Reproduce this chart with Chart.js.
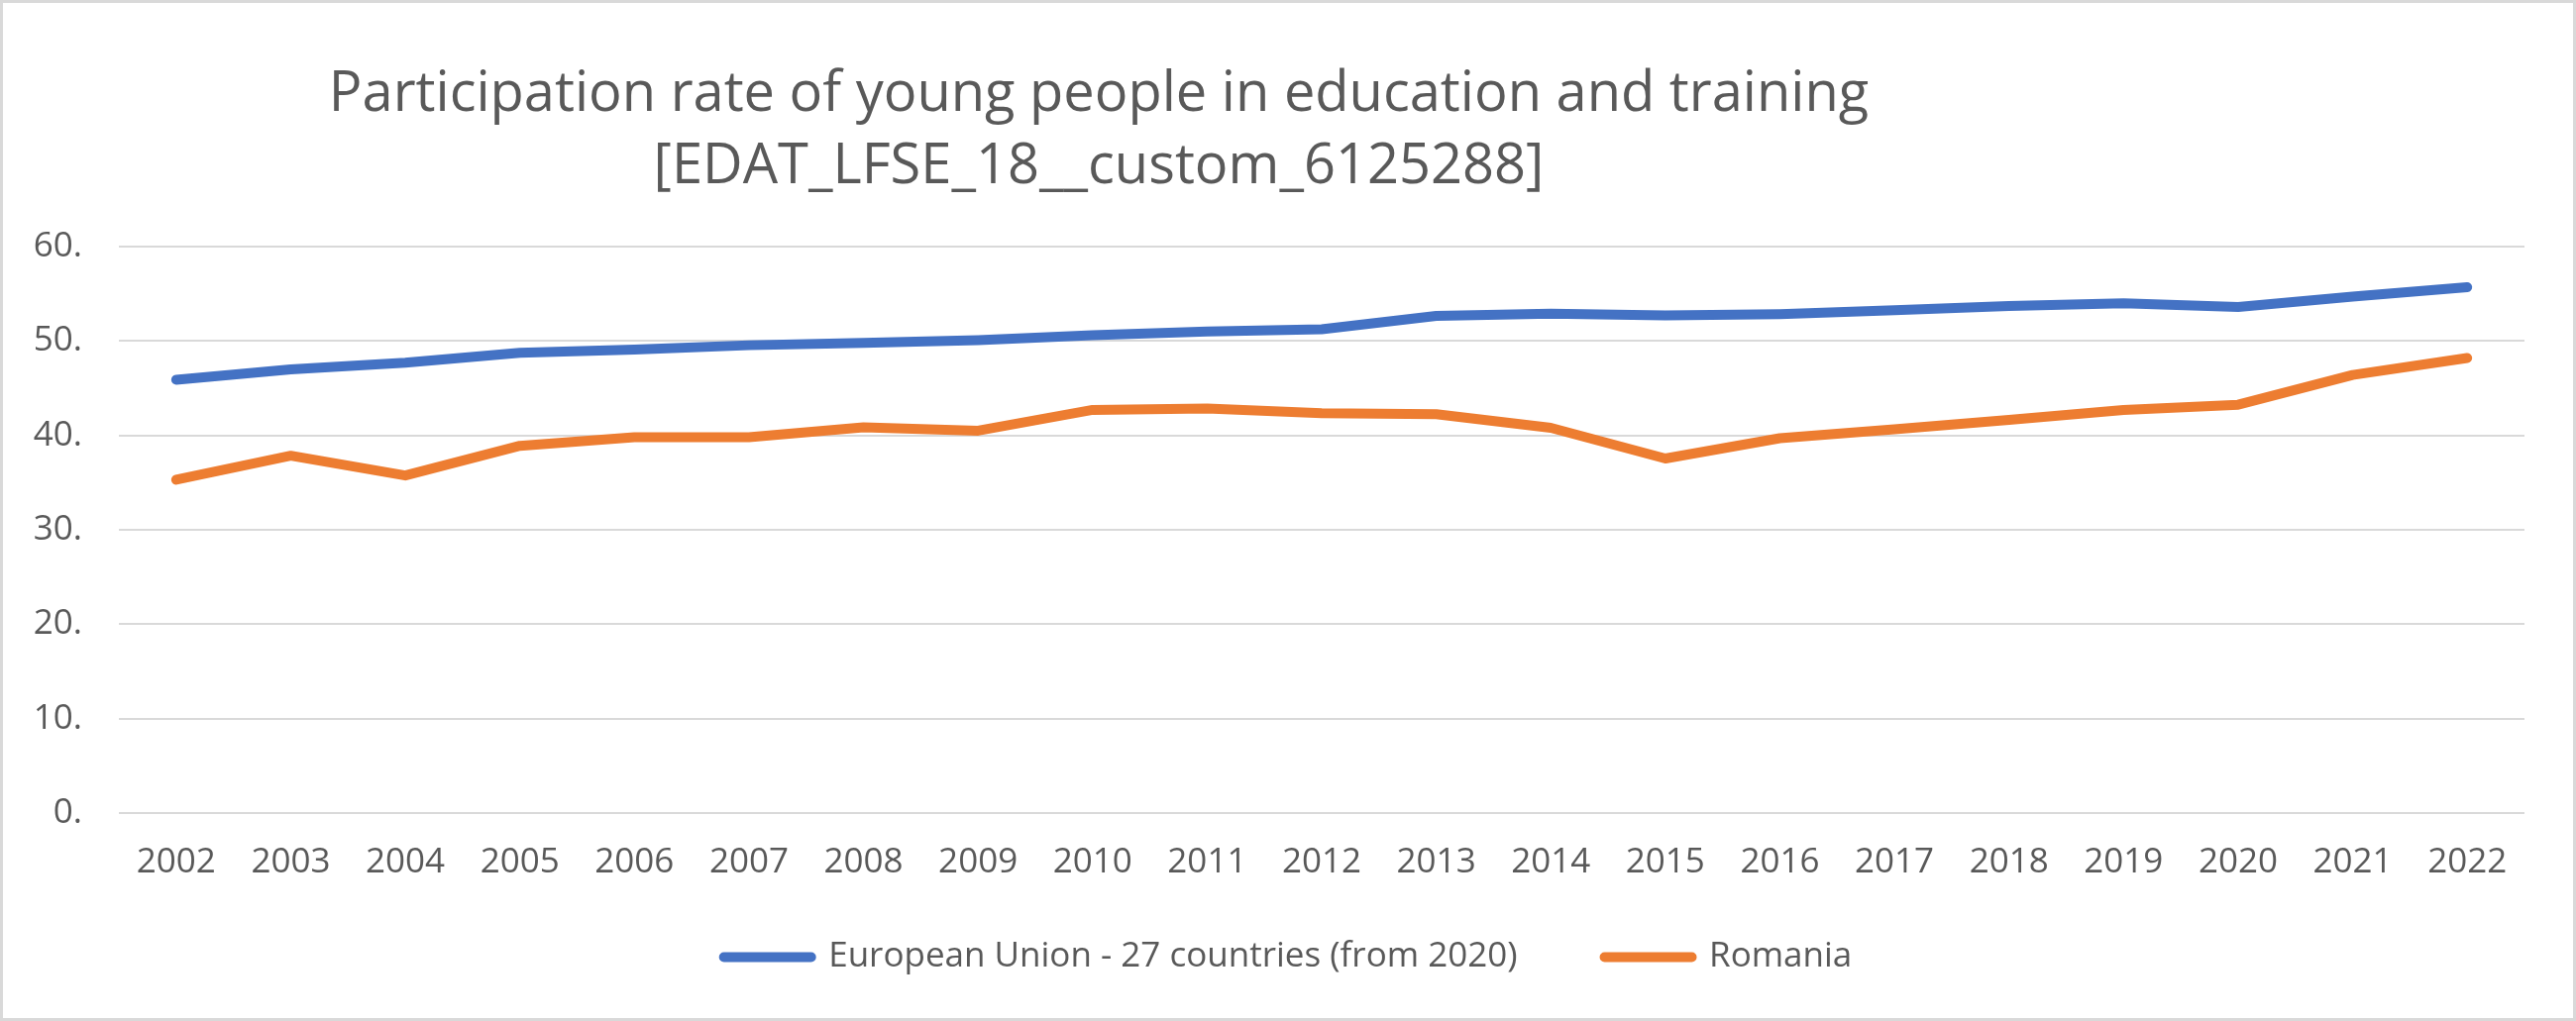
<!DOCTYPE html>
<html>
<head>
<meta charset="utf-8">
<script src="https://cdn.jsdelivr.net/npm/chart.js@4.4.1/dist/chart.umd.min.js"></script>
<style>
  html, body { margin: 0; padding: 0; background: #fff; }
  .frame {
    width: 2600px; height: 1031px;
    box-sizing: border-box;
    border: 3px solid #d9d9d9;
    background: #fff;
  }
  .frame canvas { display: block; }
</style>
</head>
<body>
<div class="frame">
  <canvas id="chart" width="2594" height="1025"></canvas>
</div>
<script>
// Data
const years = ['2002', '2003', '2004', '2005', '2006', '2007', '2008', '2009', '2010', '2011',
               '2012', '2013', '2014', '2015', '2016', '2017', '2018', '2019', '2020', '2021', '2022'];
const euValues = [45.9, 47.0, 47.7, 48.75, 49.1, 49.55, 49.8, 50.1, 50.6, 51.0,
                  51.25, 52.65, 52.9, 52.7, 52.85, 53.25, 53.7, 54.0, 53.6, 54.7, 55.7];
const roValues = [35.3, 37.85, 35.75, 38.9, 39.8, 39.8, 40.85, 40.5, 42.7, 42.85,
                  42.35, 42.25, 40.8, 37.55, 39.7, 40.65, 41.65, 42.7, 43.25, 46.4, 48.2];
const seriesNames = ['European Union - 27 countries (from 2020)', 'Romania'];
const titleLines = ['Participation rate of young people in education and training',
                    '[EDAT_LFSE_18__custom_6125288]'];

const textColor = '#595959';
const gridColor = '#d9d9d9';
const fontFamily = "'Open Sans', 'Noto Sans', sans-serif";

// Title sits left of centre in the original, so draw it ourselves
const titlePlugin = {
    id: 'offsetTitle',
    afterDraw(chart) {
        const ctx = chart.ctx;
        ctx.save();
        ctx.fillStyle = textColor;
        ctx.font = "56px " + fontFamily;
        ctx.textAlign = 'center';
        ctx.textBaseline = 'alphabetic';
        ctx.fillText(titleLines[0], 1106, 109);
        ctx.fillText(titleLines[1], 1106, 182);
        ctx.restore();
    }
};

new Chart(document.getElementById('chart'), {
    type: 'line',
    data: {
        labels: years,
        datasets: [
            {
                label: seriesNames[0],
                data: euValues,
                borderColor: '#4472c4',
                backgroundColor: '#4472c4',
                borderWidth: 10,
                borderCapStyle: 'round',
                borderJoinStyle: 'round',
                pointRadius: 0,
                tension: 0
            },
            {
                label: seriesNames[1],
                data: roValues,
                borderColor: '#ed7d31',
                backgroundColor: '#ed7d31',
                borderWidth: 10,
                borderCapStyle: 'round',
                borderJoinStyle: 'round',
                pointRadius: 0,
                tension: 0
            }
        ]
    },
    options: {
        responsive: false,
        animation: false,
        layout: {
            padding: { left: 0, right: 0, top: 246, bottom: 34 }
        },
        plugins: {
            title: { display: false },
            tooltip: { enabled: false },
            legend: {
                position: 'bottom',
                labels: {
                    color: textColor,
                    font: { family: fontFamily, size: 35 },
                    boxWidth: 88,
                    boxHeight: 0,
                    padding: 88
                }
            }
        },
        scales: {
            x: {
                offset: true,
                grid: { display: false },
                border: { display: false },
                ticks: {
                    // mirror keeps labels from being clipped to the short axis box;
                    // the negative padding pushes them back below the plot
                    mirror: true,
                    color: textColor,
                    font: { family: fontFamily, size: 35 },
                    padding: -71,
                    maxRotation: 0,
                    autoSkip: false
                },
                afterFit: (scale) => { scale.height = 40; }
            },
            y: {
                min: 0,
                max: 60,
                grid: { color: gridColor, lineWidth: 2, drawTicks: false },
                border: { display: false },
                ticks: {
                    stepSize: 10,
                    color: textColor,
                    font: { family: fontFamily, size: 35 },
                    padding: 37,
                    callback: (v) => v + '.'
                },
                afterFit: (scale) => { scale.width = 117; }
            },
            // empty right-hand spacer so the plot stops short of the frame
            // while the legend stays centred on the whole canvas
            spacer: {
                type: 'linear',
                position: 'right',
                grid: { display: false },
                border: { display: false },
                ticks: { display: false },
                afterFit: (scale) => { scale.width = 49; }
            }
        }
    },
    plugins: [titlePlugin]
});
</script>
</body>
</html>
